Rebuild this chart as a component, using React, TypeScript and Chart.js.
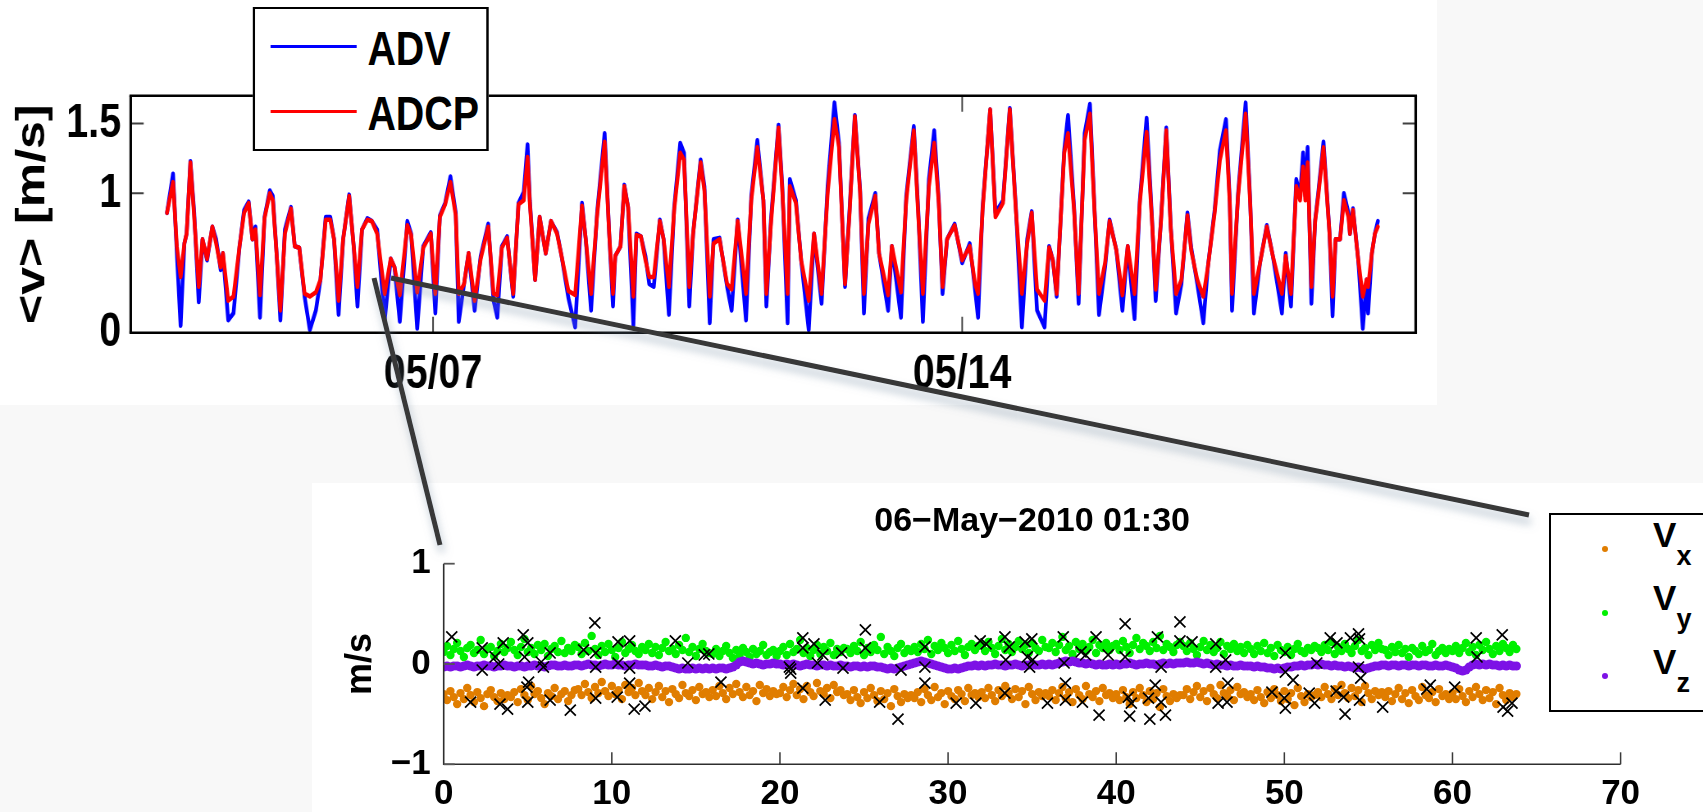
import React, { useEffect, useRef } from 'react';
import { Chart, registerables } from 'chart.js';

Chart.register(...registerables);

const FONT = "'Liberation Sans', Arial, Helvetica, sans-serif";

// ---------------- top panel: mean speed time series (day of May 2010) ----------------
const topDays = [
  3.48, 3.56, 3.61, 3.66, 3.71, 3.74, 3.79, 3.84, 3.90, 3.95,
  4.01, 4.08, 4.13, 4.19, 4.22, 4.29, 4.36, 4.44, 4.50, 4.56,
  4.61, 4.65, 4.71, 4.77, 4.84, 4.88, 4.93, 4.98, 5.04, 5.12,
  5.17, 5.23, 5.30, 5.37, 5.45, 5.51, 5.58, 5.64, 5.69, 5.75,
  5.81, 5.89, 5.95, 6.00, 6.06, 6.13, 6.19, 6.26, 6.36, 6.44,
  6.49, 6.56, 6.66, 6.71, 6.79, 6.87, 6.97, 7.03, 7.09, 7.16,
  7.23, 7.30, 7.34, 7.41, 7.47, 7.55, 7.63, 7.73, 7.80, 7.85,
  7.91, 7.98, 8.06, 8.13, 8.20, 8.25, 8.28, 8.35, 8.41, 8.49,
  8.56, 8.64, 8.70, 8.79, 8.88, 8.97, 9.02, 9.09, 9.17, 9.27,
  9.33, 9.38, 9.41, 9.48, 9.53, 9.58, 9.65, 9.69, 9.75, 9.81,
  9.86, 9.92, 10.00, 10.05, 10.12, 10.19, 10.27, 10.32, 10.39, 10.44,
  10.54, 10.59, 10.66, 10.71, 10.79, 10.89, 10.95, 11.03, 11.14, 11.21,
  11.29, 11.37, 11.41, 11.47, 11.57, 11.62, 11.69, 11.72, 11.80, 11.87,
  11.97, 12.04, 12.14, 12.22, 12.31, 12.37, 12.45, 12.51, 12.58, 12.65,
  12.70, 12.76, 12.85, 12.90, 13.02, 13.07, 13.19, 13.26, 13.36, 13.42,
  13.48, 13.56, 13.63, 13.69, 13.74, 13.80, 13.90, 14.00, 14.10, 14.17,
  14.21, 14.27, 14.37, 14.44, 14.54, 14.63, 14.71, 14.79, 14.86, 14.92,
  14.99, 15.09, 15.15, 15.20, 15.25, 15.35, 15.40, 15.48, 15.54, 15.62,
  15.69, 15.75, 15.81, 15.89, 15.95, 16.04, 16.12, 16.19, 16.28, 16.35,
  16.44, 16.51, 16.56, 16.63, 16.70, 16.76, 16.83, 16.90, 16.98, 17.03,
  17.11, 17.19, 17.25, 17.34, 17.41, 17.49, 17.54, 17.57, 17.65, 17.75,
  17.81, 17.86, 17.94, 18.03, 18.11, 18.23, 18.28, 18.35, 18.42, 18.47,
  18.51, 18.54, 18.57, 18.62, 18.67, 18.71, 18.78, 18.86, 18.90, 18.94,
  19.00, 19.05, 19.11, 19.13, 19.17, 19.24, 19.30, 19.35, 19.37, 19.42,
  19.46, 19.50,
];

const advSpeed = [
  0.86, 1.14, 0.57, 0.05, 0.64, 0.71, 1.23, 0.86, 0.22, 0.67,
  0.52, 0.76, 0.67, 0.45, 0.57, 0.09, 0.14, 0.62, 0.88, 0.94,
  0.67, 0.76, 0.11, 0.83, 1.02, 0.98, 0.57, 0.09, 0.74, 0.90,
  0.62, 0.61, 0.26, 0.02, 0.16, 0.38, 0.83, 0.83, 0.67, 0.13,
  0.67, 0.99, 0.62, 0.19, 0.74, 0.82, 0.80, 0.74, 0.09, 0.53,
  0.47, 0.08, 0.80, 0.71, 0.03, 0.62, 0.72, 0.14, 0.84, 0.93,
  1.12, 0.86, 0.08, 0.35, 0.57, 0.16, 0.55, 0.78, 0.23, 0.11,
  0.62, 0.69, 0.26, 0.93, 1.01, 1.35, 0.95, 0.38, 0.83, 0.57,
  0.80, 0.72, 0.55, 0.25, 0.04, 0.93, 0.67, 0.16, 0.86, 1.43,
  0.71, 0.19, 0.55, 0.62, 1.06, 0.90, 0.05, 0.71, 0.69, 0.55,
  0.35, 0.33, 0.81, 0.67, 0.13, 0.90, 1.36, 1.29, 0.19, 0.71,
  1.24, 1.05, 0.07, 0.67, 0.68, 0.33, 0.16, 0.81, 0.09, 0.98,
  1.38, 0.95, 0.19, 0.81, 1.49, 1.05, 0.07, 1.10, 0.95, 0.52,
  0.02, 0.71, 0.21, 1.05, 1.65, 1.36, 0.33, 0.88, 1.56, 1.02,
  0.14, 0.82, 1.00, 0.57, 0.16, 0.62, 0.11, 0.98, 1.48, 0.86,
  0.08, 1.10, 1.45, 0.95, 0.28, 0.67, 0.78, 0.50, 0.64, 0.31,
  0.11, 0.90, 1.60, 0.86, 0.95, 1.61, 0.90, 0.04, 0.67, 0.87,
  0.16, 0.04, 0.62, 0.52, 0.26, 1.31, 1.56, 0.90, 0.21, 1.43,
  1.64, 0.90, 0.13, 0.47, 0.81, 0.59, 0.16, 0.62, 0.10, 0.95,
  1.54, 0.83, 0.23, 0.81, 1.47, 0.76, 0.14, 0.35, 0.86, 0.61,
  0.35, 0.07, 0.47, 0.88, 1.31, 1.53, 0.95, 0.16, 1.00, 1.65,
  0.95, 0.14, 0.50, 0.77, 0.55, 0.14, 0.57, 0.19, 1.10, 0.98,
  1.29, 0.98, 1.33, 0.21, 0.81, 1.00, 1.37, 0.71, 0.12, 0.67,
  0.67, 1.00, 0.86, 0.71, 0.89, 0.52, 0.03, 0.38, 0.14, 0.57,
  0.71, 0.80,
];

const adcpSpeed = [
  0.86, 1.08, 0.62, 0.40, 0.64, 0.71, 1.22, 0.83, 0.33, 0.67,
  0.53, 0.76, 0.64, 0.47, 0.57, 0.23, 0.26, 0.62, 0.86, 0.93,
  0.67, 0.74, 0.27, 0.82, 1.00, 0.95, 0.57, 0.16, 0.71, 0.89,
  0.62, 0.61, 0.28, 0.26, 0.29, 0.38, 0.81, 0.81, 0.67, 0.23,
  0.67, 0.98, 0.62, 0.33, 0.74, 0.81, 0.80, 0.71, 0.28, 0.53,
  0.47, 0.27, 0.77, 0.70, 0.29, 0.61, 0.71, 0.28, 0.83, 0.92,
  1.08, 0.84, 0.28, 0.35, 0.57, 0.23, 0.53, 0.76, 0.28, 0.27,
  0.61, 0.68, 0.28, 0.92, 0.95, 1.26, 0.93, 0.38, 0.83, 0.57,
  0.80, 0.71, 0.55, 0.30, 0.27, 0.91, 0.67, 0.28, 0.84, 1.37,
  0.71, 0.28, 0.55, 0.62, 1.05, 0.90, 0.26, 0.70, 0.69, 0.52,
  0.40, 0.40, 0.80, 0.67, 0.33, 0.88, 1.29, 1.24, 0.33, 0.71,
  1.22, 1.02, 0.26, 0.64, 0.67, 0.35, 0.31, 0.80, 0.28, 0.95,
  1.33, 0.95, 0.28, 0.78, 1.47, 1.02, 0.28, 1.05, 0.93, 0.52,
  0.23, 0.71, 0.28, 1.00, 1.53, 1.33, 0.35, 0.86, 1.55, 1.00,
  0.28, 0.78, 0.98, 0.57, 0.27, 0.62, 0.29, 0.95, 1.45, 0.83,
  0.28, 1.05, 1.36, 0.93, 0.33, 0.67, 0.77, 0.52, 0.62, 0.35,
  0.28, 0.88, 1.60, 0.83, 0.93, 1.60, 0.88, 0.28, 0.64, 0.86,
  0.31, 0.23, 0.61, 0.52, 0.28, 1.29, 1.43, 0.88, 0.28, 1.38,
  1.57, 0.88, 0.28, 0.50, 0.80, 0.59, 0.27, 0.62, 0.28, 0.93,
  1.44, 0.81, 0.31, 0.80, 1.45, 0.74, 0.28, 0.38, 0.84, 0.59,
  0.38, 0.26, 0.47, 0.86, 1.24, 1.45, 0.93, 0.28, 0.98, 1.57,
  0.93, 0.28, 0.50, 0.76, 0.55, 0.28, 0.55, 0.28, 1.05, 0.95,
  1.19, 0.95, 1.22, 0.33, 0.80, 0.98, 1.33, 0.71, 0.26, 0.67,
  0.67, 0.95, 0.83, 0.71, 0.88, 0.52, 0.26, 0.38, 0.33, 0.57,
  0.71, 0.76,
];

const topSeriesNames = ['ADV', 'ADCP'];
const topSeriesColors = ['#0000ff', '#ff0000'];
const topXTickValues = [7, 14];
const topXTickLabels = ['05/07', '05/14'];
const topYTickValues = [0, 1, 1.5];
const topYTickLabels = ['0', '1', '1.5'];
const topYTitle = '<v> [m/s]';

// ---------------- lower panel: one 64 s burst (values in cm/s, 5 samples per second) ----------------
const burstTitle = '06\u2212May\u22122010 01:30';
const burstRateHz = 5;

const vxCm = [
  -30, -36, -27, -33, -40, -29, -35, -24, -31, -38, -28, -34, -42, -30, -26, -33, -37, -29, -35, -31,
  -33, -28, -38, -25, -31, -36, -22, -30, -27, -34, -40, -29, -32, -24, -35, -30, -27, -37, -31, -26,
  -25, -31, -20, -28, -34, -23, -29, -18, -27, -32, -22, -30, -26, -35, -21, -28, -24, -31, -19, -27,
  -31, -24, -35, -28, -22, -33, -27, -38, -25, -30, -34, -21, -29, -32, -26, -36, -23, -30, -28, -33,
  -26, -32, -22, -29, -35, -24, -30, -20, -28, -33, -23, -31, -27, -37, -21, -29, -25, -32, -27, -30,
  -29, -23, -33, -26, -20, -31, -25, -35, -22, -28, -32, -19, -27, -30, -24, -34, -21, -28, -26, -31,
  -30, -36, -26, -33, -39, -28, -34, -24, -31, -37, -27, -35, -29, -42, -25, -32, -38, -30, -34, -31,
  -34, -28, -38, -25, -31, -36, -23, -33, -29, -40, -27, -32, -35, -26, -30, -37, -24, -31, -29, -33,
  -28, -34, -24, -31, -37, -26, -32, -22, -29, -35, -25, -33, -27, -40, -23, -30, -36, -28, -32, -29,
  -32, -26, -36, -29, -23, -34, -28, -38, -25, -31, -35, -22, -30, -33, -27, -37, -24, -31, -29, -34,
  -30, -36, -26, -33, -40, -28, -34, -24, -31, -38, -27, -35, -29, -43, -25, -32, -37, -30, -34, -31,
  -31, -25, -35, -28, -22, -33, -27, -37, -24, -30, -34, -21, -29, -32, -26, -36, -23, -30, -28, -33,
  -30, -36, -26, -33, -39, -28, -34, -25, -31, -37, -27, -35, -29, -41, -24, -32, -38, -30, -33, -31,
  -28, -33, -23, -30, -35, -25, -31, -21, -29, -34, -24, -32, -26, -38, -22, -29, -35, -27, -31, -28,
  -33, -27, -37, -30, -24, -35, -29, -39, -26, -32, -36, -23, -31, -34, -28, -38, -25, -32, -30, -35,
  -29, -35, -25, -32, -38, -27, -33, -23, -30, -36, -26, -34, -28, -40, -24, -31, -36, -29, -33, -30,
];

const vyCm = [
  12, 18, 9, 15, 21, 13, 7, 16, 19, 11, 14, 24, 10, 15, 17, 8, 13, 20, 12, 16,
  22, 14, 9, 17, 25, 12, 16, 10, 19, 14, 20, 8, 15, 18, 12, 23, 11, 16, 13, 19,
  17, 10, 21, 13, 28, 15, 9, 18, 12, 20, 14, 7, 16, 22, 11, 15, 19, 13, 10, 17,
  14, 20, 11, 17, 9, 16, 22, 13, 15, 10, 19, 14, 26, 12, 17, 8, 15, 20, 13, 11,
  10, 15, 8, 13, 18, 11, 6, 14, 9, 16, 12, 7, 15, 10, 13, 19, 9, 12, 14, 8,
  13, 17, 9, 20, 12, 15, 24, 11, 16, 8, 14, 19, 10, 17, 13, 21, 9, 15, 12, 16,
  15, 11, 18, 13, 22, 9, 16, 12, 19, 14, 27, 10, 17, 13, 8, 16, 20, 11, 15, 13,
  17, 12, 20, 15, 24, 10, 18, 14, 21, 16, 11, 19, 13, 23, 15, 9, 17, 20, 14, 18,
  19, 13, 22, 16, 10, 18, 25, 14, 20, 12, 17, 23, 15, 19, 11, 21, 16, 13, 24, 17,
  16, 21, 12, 19, 27, 14, 18, 10, 22, 15, 20, 13, 17, 24, 11, 19, 16, 21, 14, 18,
  20, 14, 23, 17, 11, 19, 26, 15, 21, 18, 13, 22, 16, 28, 14, 20, 17, 12, 19, 22,
  18, 13, 21, 15, 9, 17, 23, 14, 19, 12, 16, 22, 10, 18, 15, 20, 13, 17, 11, 19,
  15, 10, 18, 13, 21, 11, 16, 8, 19, 14, 12, 17, 9, 15, 20, 13, 11, 16, 14, 18,
  16, 12, 19, 14, 22, 10, 17, 13, 20, 15, 11, 18, 24, 13, 16, 9, 19, 14, 21, 15,
  14, 9, 17, 12, 19, 11, 15, 7, 16, 13, 10, 18, 12, 14, 20, 9, 13, 16, 11, 15,
  13, 18, 11, 16, 21, 12, 17, 9, 19, 14, 22, 15, 10, 18, 13, 20, 16, 12, 19, 15,
];

const vzCm = [
  -3, -2, -3, -2, -2, -3, -2, -1, -2, -3, -2, -2, -1, -2, -2, -3, -2, -2, -1, -2,
  -2, -3, -2, -2, -3, -2, -2, -1, -2, -2, -3, -2, -1, -1, -2, -2, -1, -2, -2, -1,
  -1, -2, -1, 0, -1, -1, -2, -1, 0, -1, -1, 0, -1, -1, -2, -1, -1, 0, -1, -1,
  -1, -2, -2, -1, -2, -3, -2, -2, -3, -4, -5, -4, -5, -5, -4, -5, -4, -5, -4, -5,
  -4, -5, -4, -4, -5, -4, -3, -1, 2, 3, 2, 1, 0, 1, 0, -1, 0, 0, 1, 0,
  0, -1, 0, -1, 0, -1, -2, -1, 0, -1, -1, -2, -1, -1, -2, -1, -2, -2, -1, -2,
  -2, -3, -2, -2, -3, -2, -3, -2, -2, -3, -3, -4, -5, -4, -5, -4, -3, -2, -1, 0,
  1, 2, 3, 2, 1, 0, -1, -2, -3, -4, -5, -5, -4, -5, -4, -3, -2, -2, -1, -2,
  -1, -2, -1, -1, 0, -1, -1, -2, -1, -1, 0, -1, -2, -1, -1, 0, -1, -1, 0, -1,
  0, -1, 0, 1, 2, 3, 2, 3, 2, 1, 1, 0, 1, 0, -1, 0, -1, -1, 0, -1,
  0, -1, 0, 0, 1, 0, -1, 0, 0, 1, 0, 0, -1, 0, 1, 0, 1, 0, 1, 1,
  1, 2, 1, 1, 2, 1, 0, 1, 0, -1, 0, -1, -1, -2, -1, -2, -2, -1, -2, -2,
  -2, -3, -2, -3, -3, -4, -4, -5, -4, -5, -4, -3, -3, -2, -2, -1, -2, -1, -1, 0,
  -1, 0, -1, -1, -2, -1, -2, -2, -3, -2, -3, -4, -3, -4, -5, -4, -3, -2, -2, -1,
  -1, -2, -1, -1, -2, -1, -1, -2, -1, -1, -2, -1, -1, -2, -2, -1, -2, -2, -1, -2,
  -3, -4, -6, -7, -6, -3, -1, 0, -1, 0, -1, 0, -1, -1, -2, -1, -2, -1, -2, -2,
];

// flagged samples (black crosses): time in s, value in m/s
const flagTimes = [
  0.48, 2.29, 2.29, 1.6, 3.06, 3.27, 3.54, 3.35, 3.8, 4.73, 5.0, 4.81, 5.05, 4.95, 5.0, 5.8, 5.93, 6.33, 6.33, 7.53,
  8.32, 8.99, 9.04, 9.04, 9.04, 10.37, 10.37, 10.32, 11.06, 11.06, 11.06, 11.33, 11.97, 13.78, 14.52, 15.5, 15.77, 16.49, 20.56, 20.64,
  20.64, 21.36, 21.36, 22.02, 22.23, 22.55, 21.36, 22.69, 23.67, 23.75, 25.08, 25.08, 25.93, 27.02, 27.2, 28.62, 28.62, 28.62, 30.48, 31.65,
  31.91, 32.26, 33.38, 33.64, 33.43, 33.38, 34.58, 34.98, 34.71, 35.03, 34.85, 36.85, 36.9, 36.98, 35.91, 36.98, 37.91, 38.18, 37.99, 38.8,
  39.52, 38.98, 40.53, 40.53, 40.72, 40.9, 40.8, 42.0, 41.92, 42.32, 42.45, 42.67, 42.67, 42.93, 43.79, 43.79, 44.51, 45.92, 45.92, 46.51,
  46.64, 46.59, 46.06, 50.06, 50.06, 50.52, 50.0, 50.06, 49.26, 51.48, 51.8, 51.93, 52.73, 53.13, 53.08, 53.53, 53.61, 53.93, 54.41, 54.47,
  54.41, 54.54, 54.47, 55.85, 58.47, 58.68, 60.13, 61.41, 61.46, 62.96, 63.01, 63.28, 63.54,
];
const flagValues = [
  0.27, 0.16, -0.06, -0.38, 0.07, 0.0, 0.21, -0.4, -0.45, 0.29, 0.21, 0.07, -0.18, -0.23, -0.38, 0.02, -0.03, 0.11, -0.36, -0.46,
  0.14, 0.41, 0.11, -0.03, -0.34, 0.22, 0.01, -0.33, 0.23, -0.04, -0.19, -0.45, -0.42, 0.23, 0.01, 0.09, 0.1, -0.18, -0.03, -0.09,
  -0.05, 0.26, 0.16, 0.2, 0.01, 0.09, -0.24, -0.36, 0.11, -0.04, 0.34, 0.16, -0.38, -0.55, -0.06, 0.17, -0.03, -0.19, -0.39, -0.39,
  0.23, 0.2, 0.27, 0.17, 0.04, -0.29, 0.22, 0.25, 0.07, 0.04, -0.03, 0.27, 0.01, -0.19, -0.39, -0.36, 0.12, 0.09, -0.38, 0.27,
  0.09, -0.51, 0.4, 0.07, -0.33, -0.39, -0.52, -0.55, -0.34, -0.21, 0.27, -0.03, -0.38, -0.51, 0.42, 0.23, 0.22, 0.2, -0.03, 0.04,
  -0.19, -0.38, -0.39, 0.11, -0.08, -0.16, -0.34, -0.44, -0.28, -0.29, -0.39, 0.01, 0.26, 0.21, -0.27, -0.33, -0.5, 0.26, 0.3, 0.25,
  -0.03, -0.14, -0.36, -0.43, -0.25, -0.21, -0.23, 0.26, 0.07, 0.29, -0.43, -0.47, -0.39,
];

const burstNames = ['x', 'y', 'z'];
const burstColors = ['#e07d00', '#00f000', '#7d12e6'];
const lowXTickValues = [0, 10, 20, 30, 40, 50, 60, 70];
const lowYTickValues = [-1, 0, 1];
const lowYTickLabels = ['\u22121', '0', '1'];
const lowYTitle = 'm/s';

// ---------------- layout constants (page pixels) ----------------
const PAGE_W = 1703;
const PAGE_H = 812;
const SX = 0.82; // the top panel is horizontally squashed in the reference
const TOP_W = Math.round(PAGE_W / SX);
const TOP_H = 420;
const TOP_LEFT = 130.7 / SX;
const TOP_RIGHT = 1415.7 / SX;
const TOP_TOP = 95.7;
const TOP_BOTTOM = 332.7;

const LOW_LEFT = 300;
const LOW_TOP = 480;
const LOW_W = PAGE_W - LOW_LEFT;
const LOW_H = PAGE_H - LOW_TOP;
const LOW_AREA_LEFT = 443.7 - LOW_LEFT;
const LOW_AREA_RIGHT = 1620.6 - LOW_LEFT;
const LOW_AREA_BOTTOM = 764.3 - LOW_TOP;

const topFramePlugin = {
  id: 'topFrame',
  afterDatasetsDraw(chart: any) {
    const { ctx, chartArea: a, scales } = chart;
    ctx.save();
    ctx.strokeStyle = '#404040';
    ctx.lineWidth = 2;
    for (const v of topYTickValues) {
      if (v <= 0) continue;
      const y = scales.y.getPixelForValue(v);
      ctx.beginPath();
      ctx.moveTo(a.left, y);
      ctx.lineTo(a.left + 13 / SX, y);
      ctx.moveTo(a.right, y);
      ctx.lineTo(a.right - 13 / SX, y);
      ctx.stroke();
    }
    ctx.lineWidth = 1.6 / SX;
    for (const v of topXTickValues) {
      const x = scales.x.getPixelForValue(v);
      ctx.beginPath();
      ctx.moveTo(x, a.bottom);
      ctx.lineTo(x, a.bottom - 16);
      ctx.moveTo(x, a.top);
      ctx.lineTo(x, a.top + 16);
      ctx.stroke();
    }
    ctx.strokeStyle = '#000';
    const hw = 2.6;
    const vw = 2.6 / SX;
    ctx.lineWidth = hw;
    ctx.beginPath();
    ctx.moveTo(a.left - vw / 2, a.top);
    ctx.lineTo(a.right + vw / 2, a.top);
    ctx.moveTo(a.left - vw / 2, a.bottom);
    ctx.lineTo(a.right + vw / 2, a.bottom);
    ctx.stroke();
    ctx.lineWidth = vw;
    ctx.beginPath();
    ctx.moveTo(a.left, a.top);
    ctx.lineTo(a.left, a.bottom);
    ctx.moveTo(a.right, a.top);
    ctx.lineTo(a.right, a.bottom);
    ctx.stroke();
    ctx.restore();
  },
};

const lowAxesPlugin = {
  id: 'lowAxes',
  afterDatasetsDraw(chart: any) {
    const { ctx, chartArea: a, scales } = chart;
    ctx.save();
    ctx.strokeStyle = '#2e2e2e';
    ctx.lineWidth = 1.6;
    ctx.beginPath();
    ctx.moveTo(a.left, a.top);
    ctx.lineTo(a.left, a.bottom);
    ctx.lineTo(a.right, a.bottom);
    ctx.stroke();
    ctx.strokeStyle = '#3a3a3a';
    ctx.lineWidth = 1.5;
    for (const v of lowXTickValues) {
      if (v === 0) continue;
      const x = scales.x.getPixelForValue(v);
      ctx.beginPath();
      ctx.moveTo(x, a.bottom);
      ctx.lineTo(x, a.bottom - 12);
      ctx.stroke();
    }
    ctx.lineWidth = 1.8;
    ctx.strokeStyle = '#555';
    for (const v of lowYTickValues) {
      const y = scales.y.getPixelForValue(v);
      ctx.beginPath();
      ctx.moveTo(a.left, y);
      ctx.lineTo(a.left + 11, y);
      ctx.stroke();
    }
    ctx.restore();
  },
};

export default function App() {
  const topRef = useRef<HTMLCanvasElement>(null);
  const lowRef = useRef<HTMLCanvasElement>(null);

  useEffect(() => {
    document.body.style.margin = '0';
    document.body.style.overflow = 'hidden';

    const topChart = new Chart(topRef.current as HTMLCanvasElement, {
      type: 'line',
      data: {
        datasets: [
          {
            label: topSeriesNames[1],
            data: topDays.map((d, i) => ({ x: d, y: adcpSpeed[i] })),
            borderColor: topSeriesColors[1],
            borderWidth: 4.6,
            pointRadius: 0,
            tension: 0,
            order: 0,
            borderJoinStyle: 'round',
            borderCapStyle: 'round',
          },
          {
            label: topSeriesNames[0],
            data: topDays.map((d, i) => ({ x: d, y: advSpeed[i] })),
            borderColor: topSeriesColors[0],
            borderWidth: 4.6,
            pointRadius: 0,
            tension: 0,
            order: 1,
            borderJoinStyle: 'round',
            borderCapStyle: 'round',
          },
        ],
      },
      options: {
        responsive: false,
        maintainAspectRatio: false,
        animation: false,
        events: [],
        layout: { padding: { top: TOP_TOP, left: 0, right: TOP_W - TOP_RIGHT, bottom: 0 } },
        plugins: { legend: { display: false }, tooltip: { enabled: false }, title: { display: false } },
        scales: {
          x: {
            type: 'linear',
            min: 3,
            max: 20,
            grid: { display: false, drawTicks: false },
            border: { display: false },
            afterBuildTicks: (s: any) => {
              s.ticks = topXTickValues.map((v) => ({ value: v }));
            },
            afterFit: (s: any) => {
              s.height = TOP_H - TOP_BOTTOM;
            },
            ticks: {
              autoSkip: false,
              maxRotation: 0,
              padding: 13,
              color: '#000',
              font: { family: FONT, size: 48, weight: 'bold' },
              callback: (v: any) => {
                const k = topXTickValues.indexOf(Number(v));
                return k >= 0 ? topXTickLabels[k] : '';
              },
            },
          },
          y: {
            type: 'linear',
            min: 0,
            max: 1.7,
            grid: { display: false, drawTicks: false },
            border: { display: false },
            afterBuildTicks: (s: any) => {
              s.ticks = topYTickValues.map((v) => ({ value: v }));
            },
            afterFit: (s: any) => {
              s.width = TOP_LEFT;
            },
            ticks: {
              autoSkip: false,
              padding: 11.8,
              color: '#000',
              font: { family: FONT, size: 48, weight: 'bold' },
              callback: (v: any) => {
                const k = topYTickValues.indexOf(Number(v));
                return k >= 0 ? topYTickLabels[k] : '';
              },
            },
            title: {
              display: true,
              text: topYTitle,
              color: '#000',
              font: { family: FONT, size: 50, weight: 'bold' },
              padding: { top: 10.2, bottom: 0 },
            },
          },
        },
      } as any,
      plugins: [topFramePlugin],
    });

    const burstPoints = (arr: number[]) => arr.map((v, i) => ({ x: i / burstRateHz, y: v / 100 }));

    const lowChart = new Chart(lowRef.current as HTMLCanvasElement, {
      type: 'scatter',
      data: {
        datasets: [
          {
            label: 'flagged',
            data: flagTimes.map((t, i) => ({ x: t, y: flagValues[i] })),
            pointStyle: 'crossRot',
            pointRadius: 7.8,
            pointBorderWidth: 1.7,
            pointBorderColor: '#000',
            borderColor: '#000',
            backgroundColor: '#000',
            order: 0,
          },
          {
            label: 'V_' + burstNames[2],
            data: burstPoints(vzCm),
            pointRadius: 4.6,
            pointBorderWidth: 0,
            backgroundColor: burstColors[2],
            borderColor: burstColors[2],
            order: 1,
          },
          {
            label: 'V_' + burstNames[1],
            data: burstPoints(vyCm),
            pointRadius: 4.2,
            pointBorderWidth: 0,
            backgroundColor: burstColors[1],
            borderColor: burstColors[1],
            order: 2,
          },
          {
            label: 'V_' + burstNames[0],
            data: burstPoints(vxCm),
            pointRadius: 4.2,
            pointBorderWidth: 0,
            backgroundColor: burstColors[0],
            borderColor: burstColors[0],
            order: 3,
          },
        ],
      },
      options: {
        responsive: false,
        maintainAspectRatio: false,
        animation: false,
        events: [],
        layout: { padding: { top: 21.6, left: 0, right: LOW_W - LOW_AREA_RIGHT, bottom: 0 } },
        plugins: {
          legend: { display: false },
          tooltip: { enabled: false },
          title: {
            display: true,
            text: burstTitle,
            fullSize: false,
            color: '#000',
            font: { family: FONT, size: 34, weight: 'bold', lineHeight: 1.2 },
            padding: { top: 0, bottom: 21.3 },
          },
        },
        scales: {
          x: {
            type: 'linear',
            min: 0,
            max: 70,
            grid: { display: false, drawTicks: false },
            border: { display: false },
            afterBuildTicks: (s: any) => {
              s.ticks = lowXTickValues.map((v) => ({ value: v }));
            },
            afterFit: (s: any) => {
              s.height = LOW_H - LOW_AREA_BOTTOM;
            },
            ticks: {
              autoSkip: false,
              maxRotation: 0,
              padding: 9,
              color: '#000',
              font: { family: FONT, size: 35, weight: 'bold' },
            },
          },
          y: {
            type: 'linear',
            min: -1,
            max: 1,
            grid: { display: false, drawTicks: false },
            border: { display: false },
            afterBuildTicks: (s: any) => {
              s.ticks = lowYTickValues.map((v) => ({ value: v }));
            },
            afterFit: (s: any) => {
              s.width = LOW_AREA_LEFT;
            },
            ticks: {
              autoSkip: false,
              padding: 13,
              color: '#000',
              font: { family: FONT, size: 35, weight: 'bold' },
              callback: (v: any) => {
                const k = lowYTickValues.indexOf(Number(v));
                return k >= 0 ? lowYTickLabels[k] : '';
              },
            },
            title: {
              display: true,
              text: lowYTitle,
              color: '#000',
              font: { family: FONT, size: 36, weight: 'bold' },
              padding: { top: 39.4, bottom: 0 },
            },
          },
        },
      } as any,
      plugins: [lowAxesPlugin],
    });

    return () => {
      topChart.destroy();
      lowChart.destroy();
    };
  }, []);

  const abs = (s: React.CSSProperties): React.CSSProperties => ({ position: 'absolute', ...s });

  // top legend geometry (unsquashed coordinates of the top panel)
  const lgLeft = 252.6 / SX;
  const lgRight = 489.1 / SX;
  const lineL = 271 / SX;
  const lineR = 357 / SX;
  const textL = 367.4 / SX;
  const rowsY = [46.7, 111.7];
  const textCY = [48, 113];

  return (
    <div style={abs({ left: 0, top: 0, width: PAGE_W, height: PAGE_H, overflow: 'hidden', background: '#f8f8f8', fontFamily: FONT })}>
      <div style={abs({ left: 0, top: 0, width: 1437, height: 405, background: '#fff' })} />
      <div style={abs({ left: 312, top: 483, width: PAGE_W - 312, height: PAGE_H - 483, background: '#fff' })} />

      <div style={abs({ left: 0, top: 0, width: TOP_W, height: TOP_H, transform: `scaleX(${SX})`, transformOrigin: '0 0' })}>
        <canvas ref={topRef} width={TOP_W} height={TOP_H} style={abs({ left: 0, top: 0, width: TOP_W, height: TOP_H })} />
        <div
          style={abs({
            left: lgLeft,
            top: 7.3,
            width: lgRight - lgLeft,
            height: 143.4,
            boxSizing: 'border-box',
            borderStyle: 'solid',
            borderColor: '#000',
            borderWidth: `2.5px ${2.5 / SX}px`,
            background: '#fff',
          })}
        />
        {topSeriesNames.map((name, i) => (
          <React.Fragment key={name}>
            <div style={abs({ left: lineL, top: rowsY[i] - 1.75, width: lineR - lineL, height: 3.5, background: topSeriesColors[i] })} />
            <div
              style={abs({
                left: textL,
                top: textCY[i] - 23.4,
                fontSize: 48,
                lineHeight: '48px',
                fontWeight: 'bold',
                color: '#000',
                whiteSpace: 'nowrap',
              })}
            >
              {name}
            </div>
          </React.Fragment>
        ))}
      </div>

      <canvas ref={lowRef} width={LOW_W} height={LOW_H} style={abs({ left: LOW_LEFT, top: LOW_TOP, width: LOW_W, height: LOW_H })} />

      <div
        style={abs({
          left: 1549.3,
          top: 512.7,
          width: 220,
          height: 199,
          boxSizing: 'border-box',
          border: '2.5px solid #000',
          background: '#fff',
        })}
      />
      {burstNames.map((n, i) => (
        <React.Fragment key={n}>
          <div
            style={abs({
              left: 1601.7,
              top: 546.3 + i * 63.2,
              width: 6,
              height: 6,
              borderRadius: '50%',
              background: burstColors[i],
            })}
          />
          <div style={abs({ left: 1653, top: 517.1 + i * 63.3, fontSize: 35, lineHeight: '35px', fontWeight: 'bold', color: '#000' })}>
            V
          </div>
          <div style={abs({ left: 1676.5, top: 543.1 + i * 63.3, fontSize: 27, lineHeight: '27px', fontWeight: 'bold', color: '#000' })}>
            {n}
          </div>
        </React.Fragment>
      ))}

      <svg width={PAGE_W} height={PAGE_H} style={abs({ left: 0, top: 0, pointerEvents: 'none' })}>
        <defs>
          <filter id="zoomShadow" x="-50%" y="-50%" width="200%" height="200%">
            <feDropShadow dx="2" dy="7" stdDeviation="4" floodColor="#7d93a8" floodOpacity="0.55" />
          </filter>
        </defs>
        <line x1={374} y1={278} x2={440} y2={545} stroke="#383838" strokeWidth={5} filter="url(#zoomShadow)" />
        <line x1={391} y1={278} x2={1529} y2={515} stroke="#383838" strokeWidth={5} filter="url(#zoomShadow)" />
      </svg>
    </div>
  );
}
